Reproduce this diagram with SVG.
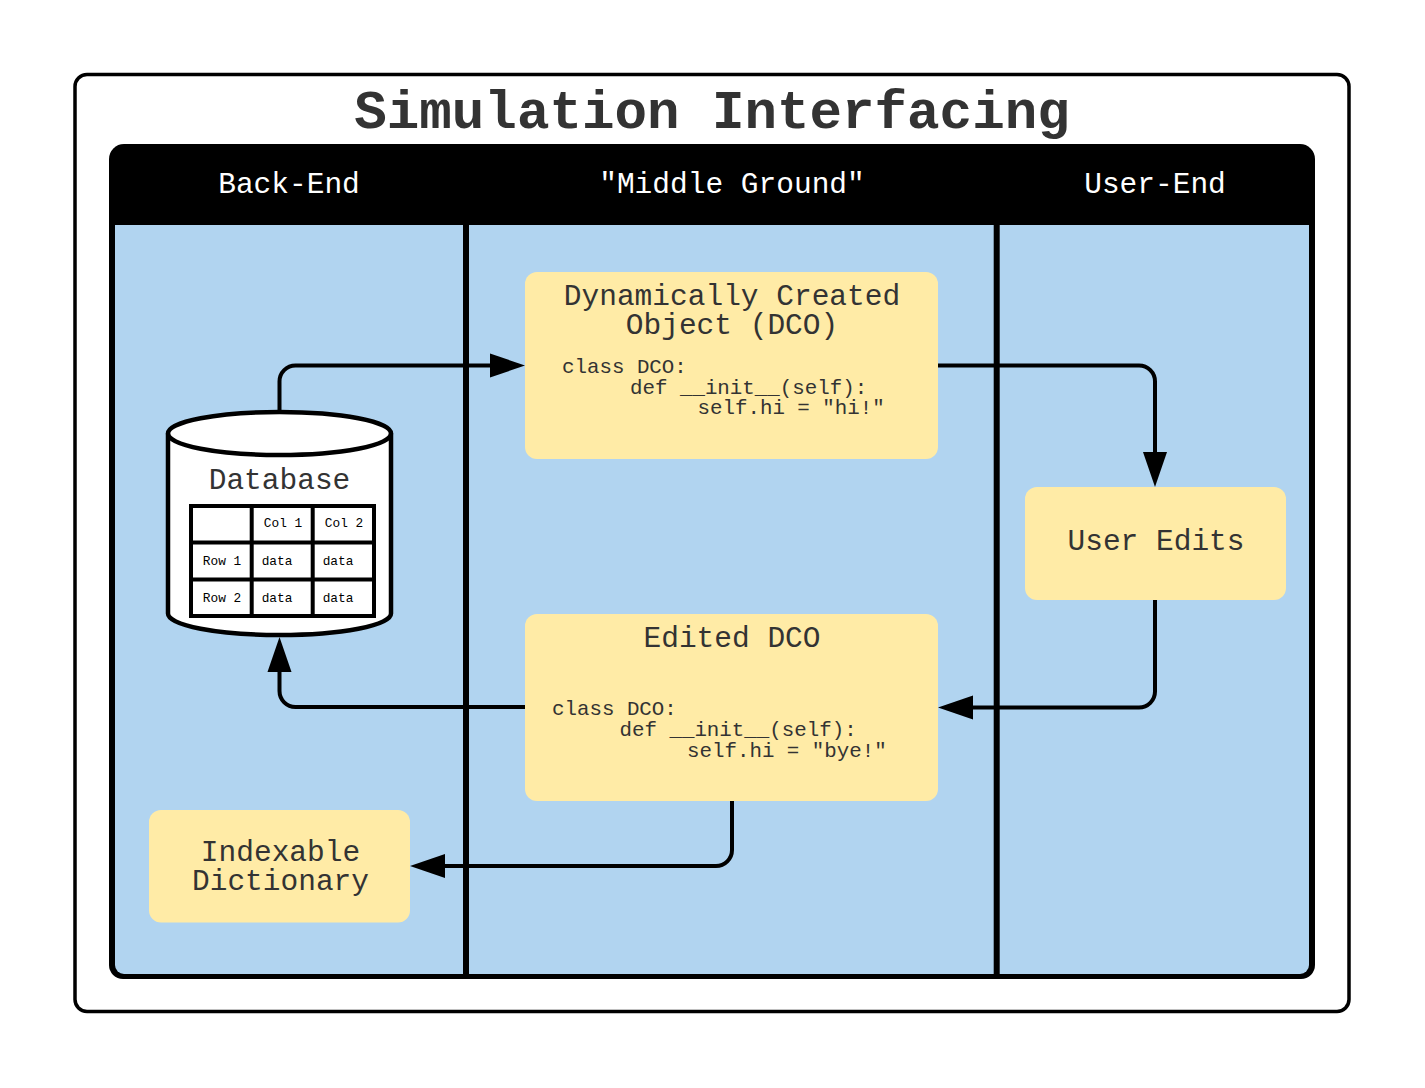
<svg xmlns="http://www.w3.org/2000/svg" width="1425" height="1088" viewBox="0 0 1425 1088">
<defs>
<marker id="arrow" markerUnits="userSpaceOnUse" markerWidth="36" markerHeight="26" refX="15" refY="13" orient="auto"><path d="M0 1L35 13L0 25Z" fill="#000"/></marker>
</defs>
<style>
text{font-family:"Liberation Mono","DejaVu Sans Mono",monospace;fill:#333;text-anchor:middle}
.box{fill:#ffeba6}
.conn{fill:none;stroke:#000;stroke-width:4;marker-end:url(#arrow)}
.lane{fill:#fff;font-size:29.5px}
.lbl{font-size:29.5px}
.code{font-size:20.8px;text-anchor:start}
.cell{font-size:12.8px;fill:#000}
.grid{fill:#fff;stroke:#000;stroke-width:4}
</style>
<rect width="1425" height="1088" fill="#fff"/>
<g id="frame">
<rect x="75" y="74.500" width="1274" height="937" rx="12" fill="#fff" stroke="#000" stroke-width="3.500"/>
<text x="712" y="128" font-size="54.200" font-weight="700">Simulation Interfacing</text>
</g>
<g id="swimlanes">
<path d="M124 144H1300a15 15 0 0 1 15 15V965a14 14 0 0 1-14 14H123a14 14 0 0 1-14-14V159a15 15 0 0 1 15-15Z" fill="#000"/>
<path d="M115 225H1309V965a9 9 0 0 1-9 9H124a9 9 0 0 1-9-9Z" fill="#b1d4f0"/>
<path d="M466 225V974M996.700 225V974" stroke="#000" stroke-width="6" fill="none"/>
<text class="lane" x="289" y="193">Back-End</text>
<text class="lane" x="732" y="193">"Middle Ground"</text>
<text class="lane" x="1155" y="193">User-End</text>
</g>
<g id="connectors">
<path class="conn" d="M279.500 412V381.500a16 16 0 0 1 16-16H505"/>
<path class="conn" d="M938 365.500H1139a16 16 0 0 1 16 16V467"/>
<path class="conn" d="M1155 600V691.500a16 16 0 0 1-16 16H958"/>
<path class="conn" d="M525 707H295.500a16 16 0 0 1-16-16V657"/>
<path class="conn" d="M732 801V850a16 16 0 0 1-16 16H430"/>
</g>
<g id="dco">
<rect class="box" x="525" y="272" width="413" height="187" rx="12"/>
<text class="lbl" x="732" y="305">Dynamically Created</text>
<text class="lbl" x="732" y="334">Object (DCO)</text>
<text class="code" x="562" y="373">class DCO:</text>
<text class="code" x="630" y="394">def __init__(self):</text>
<text class="code" x="697.500" y="414">self.hi = "hi!"</text>
</g>
<g id="edited-dco">
<rect class="box" x="525" y="614" width="413" height="187" rx="12"/>
<text class="lbl" x="732" y="647">Edited DCO</text>
<text class="code" x="552" y="715">class DCO:</text>
<text class="code" x="619.500" y="736">def __init__(self):</text>
<text class="code" x="687" y="757">self.hi = "bye!"</text>
</g>
<g id="user-edits">
<rect class="box" x="1025" y="487" width="261" height="113" rx="12"/>
<text class="lbl" x="1156" y="550">User Edits</text>
</g>
<g id="indexable-dictionary">
<rect class="box" x="149" y="810" width="261" height="112.500" rx="12"/>
<text class="lbl" x="280.500" y="861">Indexable</text>
<text class="lbl" x="280.500" y="890">Dictionary</text>
</g>
<g id="database">
<path d="M168 433.500A111.500 21.500 0 0 1 391 433.500V613.500A111.500 21.500 0 0 1 168 613.500Z" fill="#fff" stroke="#000" stroke-width="4.500"/>
<path d="M168 433.500A111.500 21.500 0 0 0 391 433.500" fill="none" stroke="#000" stroke-width="4.500"/>
<text class="lbl" x="279.500" y="489">Database</text>
<rect class="grid" x="191" y="506" width="183" height="110"/>
<path class="grid" d="M251.700 506V616M312.700 506V616M191 542.500H374M191 579.500H374"/>
<text class="cell" x="283" y="527">Col 1</text>
<text class="cell" x="344" y="527">Col 2</text>
<text class="cell" x="222" y="565">Row 1</text>
<text class="cell" x="277" y="565">data</text>
<text class="cell" x="338" y="565">data</text>
<text class="cell" x="222" y="602">Row 2</text>
<text class="cell" x="277" y="602">data</text>
<text class="cell" x="338" y="602">data</text>
</g>
</svg>
